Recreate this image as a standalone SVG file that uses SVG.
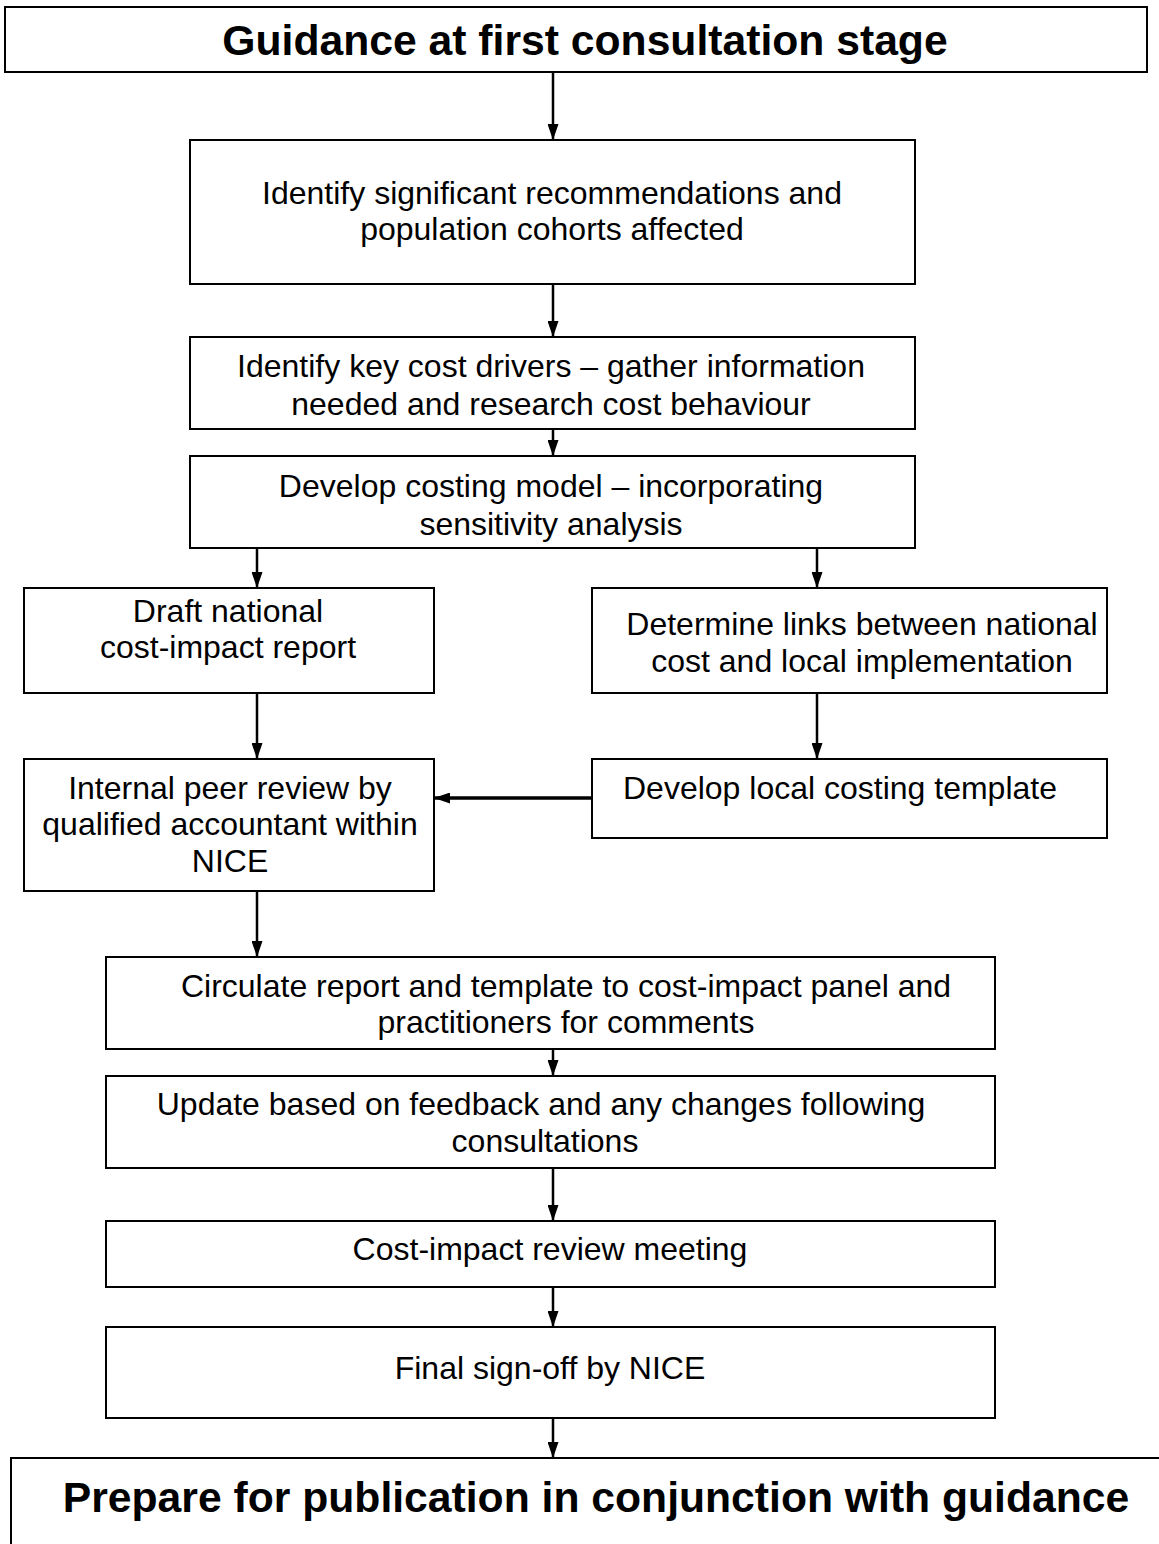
<svg xmlns="http://www.w3.org/2000/svg" width="1159" height="1544" viewBox="0 0 1159 1544">
<style>
.box{fill:#fff;stroke:#000;stroke-width:2}
.t{font-family:"Liberation Sans",Arial,sans-serif;font-size:32px;fill:#000;text-anchor:middle}
.h{font-family:"Liberation Sans",Arial,sans-serif;font-size:42.67px;font-weight:bold;fill:#000;text-anchor:middle}
.c{stroke:#000;stroke-width:2.5;fill:none;marker-end:url(#ah)}
</style>
<defs>
<marker id="ah" markerUnits="userSpaceOnUse" markerWidth="16" markerHeight="11" refX="16" refY="5.5" orient="auto" viewBox="0 0 16 11">
<path d="M0,0 L16,5.5 L0,11 z" fill="#000"/>
</marker>
</defs>
<rect width="1159" height="1544" fill="#fff"/>
<g id="connectors">
<line class="c" x1="553" y1="72" x2="553" y2="140"/>
<line class="c" x1="553" y1="284" x2="553" y2="337"/>
<line class="c" x1="553" y1="429" x2="553" y2="456"/>
<line class="c" x1="257" y1="548" x2="257" y2="588"/>
<line class="c" x1="817" y1="548" x2="817" y2="588"/>
<line class="c" x1="257" y1="693" x2="257" y2="759"/>
<line class="c" x1="817" y1="693" x2="817" y2="759"/>
<line class="c" x1="592" y1="798" x2="434" y2="798" style="stroke-width:3.5"/>
<line class="c" x1="257" y1="891" x2="257" y2="957"/>
<line class="c" x1="553" y1="1049" x2="553" y2="1076"/>
<line class="c" x1="553" y1="1168" x2="553" y2="1221"/>
<line class="c" x1="553" y1="1287" x2="553" y2="1327"/>
<line class="c" x1="553" y1="1418" x2="553" y2="1458"/>
</g>
<g id="start">
<rect class="box" x="5" y="7" width="1142" height="65"/>
<text class="h" x="585" y="55">Guidance at first consultation stage</text>
</g>
<g id="identify-recs">
<rect class="box" x="190" y="140" width="725" height="144"/>
<text class="t" x="552" y="204">Identify significant recommendations and</text>
<text class="t" x="552" y="240">population cohorts affected</text>
</g>
<g id="cost-drivers">
<rect class="box" x="190" y="337" width="725" height="92"/>
<text class="t" x="551" y="377">Identify key cost drivers – gather information</text>
<text class="t" x="551" y="415">needed and research cost behaviour</text>
</g>
<g id="costing-model">
<rect class="box" x="190" y="456" width="725" height="92"/>
<text class="t" x="551" y="497">Develop costing model – incorporating</text>
<text class="t" x="551" y="535">sensitivity analysis</text>
</g>
<g id="draft-report">
<rect class="box" x="24" y="588" width="410" height="105"/>
<text class="t" x="228" y="622">Draft national</text>
<text class="t" x="228" y="658">cost-impact report</text>
</g>
<g id="determine-links">
<rect class="box" x="592" y="588" width="515" height="105"/>
<text class="t" x="862" y="635">Determine links between national</text>
<text class="t" x="862" y="672">cost and local implementation</text>
</g>
<g id="peer-review">
<rect class="box" x="24" y="759" width="410" height="132"/>
<text class="t" x="230" y="799">Internal peer review by</text>
<text class="t" x="230" y="835">qualified accountant within</text>
<text class="t" x="230" y="872">NICE</text>
</g>
<g id="local-template">
<rect class="box" x="592" y="759" width="515" height="79"/>
<text class="t" x="840" y="799">Develop local costing template</text>
</g>
<g id="circulate">
<rect class="box" x="106" y="957" width="889" height="92"/>
<text class="t" x="566" y="997">Circulate report and template to cost-impact panel and</text>
<text class="t" x="566" y="1033">practitioners for comments</text>
</g>
<g id="update">
<rect class="box" x="106" y="1076" width="889" height="92"/>
<text class="t" x="541" y="1115">Update based on feedback and any changes following</text>
<text class="t" x="545" y="1152">consultations</text>
</g>
<g id="review-meeting">
<rect class="box" x="106" y="1221" width="889" height="66"/>
<text class="t" x="550" y="1260">Cost-impact review meeting</text>
</g>
<g id="sign-off">
<rect class="box" x="106" y="1327" width="889" height="91"/>
<text class="t" x="550" y="1379">Final sign-off by NICE</text>
</g>
<g id="publication">
<rect class="box" x="11" y="1458" width="1160" height="100"/>
<text class="h" x="596" y="1512">Prepare for publication in conjunction with guidance</text>
</g>
</svg>
